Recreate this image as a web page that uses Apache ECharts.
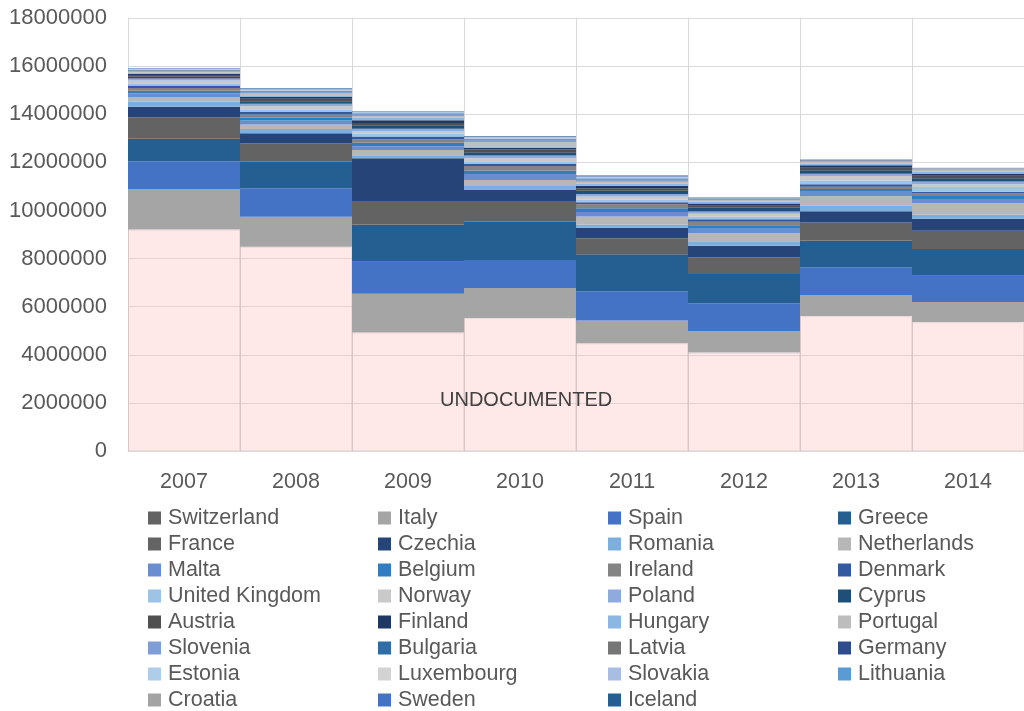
<!DOCTYPE html>
<html>
<head>
<meta charset="utf-8">
<script src="https://cdn.jsdelivr.net/npm/echarts@6/dist/echarts.min.js"></script>
<style>
  html, body { margin: 0; padding: 0; background: #fff; }
  #main { width: 1024px; height: 711px; }
</style>
</head>
<body>
<div id="main"></div>
<script>
// 年份
var years = ['2007', '2008', '2009', '2010', '2011', '2012', '2013', '2014'];
var yTicks = [0, 18000000, 2000000];

// 各国数据 (从下往上堆叠)
var switzerland = [9210000, 8490000, 4930000, 5530000, 4480000, 4090000, 5610000, 5360000];
var italy = [1680000, 1250000, 1610000, 1250000, 940000, 900000, 870000, 830000];
var spain = [1150000, 1180000, 1330000, 1160000, 1220000, 1150000, 1160000, 1100000];
var greece = [940000, 1100000, 1550000, 1590000, 1540000, 1220000, 1110000, 1110000];
var france = [890000, 770000, 970000, 860000, 660000, 690000, 750000, 760000];
var czechia = [440000, 420000, 1780000, 460000, 440000, 480000, 470000, 490000];
var romania = [220000, 180000, 120000, 170000, 140000, 190000, 220000, 180000];
var netherlands = [190000, 180000, 220000, 250000, 330000, 330000, 400000, 470000];
var malta = [140000, 170000, 150000, 240000, 190000, 190000, 190000, 180000];
var belgium = [120000, 110000, 150000, 150000, 150000, 140000, 110000, 120000];
var ireland = [110000, 140000, 150000, 190000, 170000, 150000, 100000, 100000];
var denmark = [100000, 100000, 110000, 80000, 80000, 100000, 100000, 80000];
var unitedKingdom = [100000, 120000, 120000, 120000, 120000, 110000, 150000, 190000];
var norway = [110000, 120000, 110000, 120000, 120000, 120000, 190000, 120000];
var poland = [80000, 110000, 100000, 110000, 100000, 100000, 100000, 110000];
var cyprus = [80000, 100000, 140000, 140000, 140000, 150000, 140000, 140000];
var austria = [70000, 100000, 100000, 110000, 100000, 80000, 100000, 100000];
var finland = [50000, 80000, 110000, 80000, 110000, 100000, 110000, 80000];
var hungary = [40000, 70000, 100000, 60000, 80000, 70000, 70000, 100000];
var portugal = [50000, 70000, 80000, 170000, 80000, 70000, 70000, 70000];
var slovenia = [40000, 50000, 70000, 80000, 70000, 50000, 50000, 40000];
var bulgaria = [15000, 25000, 15000, 22000, 25000, 10000, 8000, 7000];
var latvia = [12000, 20000, 14000, 18000, 20000, 9000, 7000, 6000];
var germany = [14000, 24000, 16000, 22000, 24000, 10000, 8000, 6000];
var estonia = [8000, 15000, 10000, 14000, 16000, 7000, 5000, 4000];
var luxembourg = [9000, 16000, 11000, 15000, 17000, 7000, 5000, 5000];
var slovakia = [10000, 18000, 12000, 17000, 19000, 8000, 6000, 5000];
var lithuania = [9000, 16000, 11000, 16000, 18000, 8000, 6000, 5000];
var croatia = [8000, 15000, 10000, 15000, 16000, 7000, 5000, 4000];
var sweden = [9000, 17000, 12000, 16000, 19000, 8000, 6000, 5000];
var iceland = [6000, 14000, 9000, 15000, 16000, 6000, 4000, 3000];

var countries = [
    ['Switzerland', switzerland, '#636363'],
    ['Italy', italy, '#a5a5a5'],
    ['Spain', spain, '#4472c4'],
    ['Greece', greece, '#255e91'],
    ['France', france, '#636363'],
    ['Czechia', czechia, '#264478'],
    ['Romania', romania, '#7cafdd'],
    ['Netherlands', netherlands, '#b7b7b7'],
    ['Malta', malta, '#698ed0'],
    ['Belgium', belgium, '#327dc2'],
    ['Ireland', ireland, '#848484'],
    ['Denmark', denmark, '#335aa1'],
    ['United Kingdom', unitedKingdom, '#9dc3e6'],
    ['Norway', norway, '#c9c9c9'],
    ['Poland', poland, '#8faadc'],
    ['Cyprus', cyprus, '#1f4e79'],
    ['Austria', austria, '#505050'],
    ['Finland', finland, '#203864'],
    ['Hungary', hungary, '#8bb7e2'],
    ['Portugal', portugal, '#bdbdbd'],
    ['Slovenia', slovenia, '#7f9dd6'],
    ['Bulgaria', bulgaria, '#2e6da8'],
    ['Latvia', latvia, '#767676'],
    ['Germany', germany, '#2e4b8e'],
    ['Estonia', estonia, '#afcdeb'],
    ['Luxembourg', luxembourg, '#d3d3d3'],
    ['Slovakia', slovakia, '#a8bce4'],
    ['Lithuania', lithuania, '#5b9bd5'],
    ['Croatia', croatia, '#a3a3a3'],
    ['Sweden', sweden, '#4472c4'],
    ['Iceland', iceland, '#255e91']
];

var textColor = '#595959';
var fontFam = 'Liberation Sans';

var myChart = echarts.init(document.getElementById('main'));

var series = countries.map(function (c, i) {
    var s = {
        name: c[0],
        type: 'bar',
        stack: 'total',
        barCategoryGap: '0%',
        data: c[1],
        itemStyle: { color: c[2] },
        emphasis: { disabled: true }
    };
    if (i === 0) {
        // 底部的“无证”部分用浅粉色半透明
        s.itemStyle = {
            color: 'rgba(255,190,190,0.36)',
            borderColor: 'rgba(200,170,170,0.35)',
            borderWidth: 1
        };
    }
    return s;
});

// 图例分四列
var legends = [];
var colX = [148, 378, 608, 838];
for (var k = 0; k < 4; k++) {
    var items = [];
    for (var j = k; j < countries.length; j += 4) {
        items.push({ name: countries[j][0], itemStyle: { color: countries[j][2], borderWidth: 0 } });
    }
    legends.push({
        orient: 'vertical',
        left: colX[k],
        top: 505,
        width: 220,
        height: 230,
        padding: 0,
        itemGap: 0,
        itemWidth: 13,
        itemHeight: 13,
        icon: 'rect',
        selectedMode: false,
        data: items,
        textStyle: {
            color: textColor,
            fontFamily: fontFam,
            fontSize: 21.5,
            lineHeight: 26,
            padding: [0, 0, 0, 2]
        }
    });
}

option = {
    animation: false,
    backgroundColor: '#fff',
    grid: {
        left: 128,
        top: 18,
        bottom: 260,
        width: 907
    },
    legend: legends,
    xAxis: {
        type: 'category',
        data: years,
        axisLine: { lineStyle: { color: '#d9d9d9' } },
        axisTick: { show: false },
        axisLabel: {
            color: textColor,
            fontFamily: fontFam,
            fontSize: 21.5,
            margin: 20
        },
        splitLine: { show: true, lineStyle: { color: '#d9d9d9', width: 1 } }
    },
    yAxis: {
        type: 'value',
        min: yTicks[0],
        max: yTicks[1],
        interval: yTicks[2],
        axisLine: { show: false },
        axisTick: { show: false },
        axisLabel: {
            color: textColor,
            fontFamily: fontFam,
            fontSize: 22,
            margin: 21,
            formatter: function (v) { return String(v); }
        },
        splitLine: { lineStyle: { color: '#d9d9d9', width: 1 } }
    },
    graphic: [{
        type: 'text',
        left: 440,
        top: 390,
        z: 100,
        style: {
            text: 'UNDOCUMENTED',
            fill: '#404040',
            font: '20px "Liberation Sans"'
        }
    }],
    series: series
};

myChart.setOption(option);
</script>
</body>
</html>
